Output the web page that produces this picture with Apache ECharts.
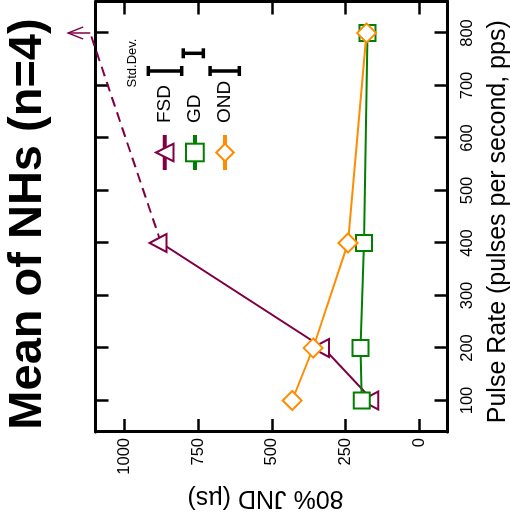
<!DOCTYPE html>
<html>
<head>
<meta charset="utf-8">
<title>Mean of NHs (n=4)</title>
<script src="https://cdn.jsdelivr.net/npm/echarts@6/dist/echarts.min.js"></script>
<style>
  html, body { margin: 0; padding: 0; background: #fff; overflow: hidden; }
  body { width: 511px; height: 522px; position: relative; }
  /* the figure is drawn upright, then turned a quarter turn to the left like the original */
  #chart {
    position: absolute;
    left: 0;
    top: 0;
    width: 522px;
    height: 511px;
    transform-origin: 0 0;
    transform: translate(0, 522px) rotate(-90deg);
  }
</style>
</head>
<body>
<div id="chart"></div>
<script>
const pulseRates = [100, 200, 400, 800]
const pulseTicks = [100, 200, 300, 400, 500, 600, 700, 800]
const jndTicks = [0, 250, 500, 750, 1000]

// 80% JND (µs) per pulse rate
const fsdJnd = [158, 325, 875]      // 800 pps is off the scale
const fsdOffScale = [1115, 1190]    // end of dashed line, tip of arrow
const gdJnd = [195, 200, 188, 176]
const ondJnd = [431, 360, 242, 179]

const stdDevNames = ['FSD', 'GD', 'OND']
const stdDevs = [113, 68, 99]

const FONT = '"Liberation Sans", Arial, sans-serif'
const COL_FSD = '#800046'
const COL_GD = '#008000'
const COL_OND = '#ff8c00'

const chart = echarts.init(document.getElementById('chart'))

const axisLine = { onZero: false, lineStyle: { color: '#000', width: 3 } }
const tickStyle = { color: '#000', width: 2.5 }
const plainNumber = (v) => String(v)

const markerStyle = (color) => ({ color: '#fff', borderColor: color, borderWidth: 2 })

const option = {
  animation: false,
  backgroundColor: '#fff',
  grid: { left: 90, right: 1.5, top: 95.5, bottom: 63.5, outerBoundsMode: 'none', containLabel: false },
  legend: {
    data: ['FSD', 'GD', 'OND'],
    orient: 'vertical',
    left: 350,
    top: 155,
    padding: 0,
    itemWidth: 35,
    itemHeight: 22,
    itemGap: 10.5,
    selectedMode: false,
    lineStyle: { width: 4 },
    textStyle: { fontSize: 19, color: '#000', fontFamily: FONT, padding: [0, 0, 0, 7] }
  },
  xAxis: [
    {
      type: 'value',
      min: 40,
      max: 860,
      position: 'bottom',
      name: 'Pulse Rate (pulses per second, pps)',
      nameLocation: 'middle',
      nameGap: 38,
      nameTextStyle: { fontSize: 25, color: '#000', fontFamily: FONT, padding: [0, 10, 0, 0] },
      axisLine: axisLine,
      axisTick: { inside: true, length: 13, lineStyle: tickStyle, customValues: pulseTicks },
      axisLabel: { customValues: pulseTicks, formatter: plainNumber, fontSize: 16.5, color: '#000', fontFamily: FONT, margin: 11 },
      splitLine: { show: false }
    },
    {
      type: 'value',
      min: 40,
      max: 860,
      position: 'top',
      axisLine: axisLine,
      axisTick: { inside: true, length: 13, lineStyle: tickStyle, customValues: pulseTicks },
      axisLabel: { show: false },
      splitLine: { show: false }
    }
  ],
  yAxis: [
    {
      type: 'value',
      min: -95,
      max: 1097,
      position: 'left',
      name: '80% JND (µs)',
      nameLocation: 'middle',
      nameGap: 52,
      nameTextStyle: { fontSize: 25, color: '#000', fontFamily: FONT, padding: [0, 0, 0, 12] },
      axisLine: axisLine,
      axisTick: { inside: true, length: 13, lineStyle: tickStyle, customValues: jndTicks },
      axisLabel: { customValues: jndTicks, formatter: plainNumber, fontSize: 16.5, color: '#000', fontFamily: FONT, margin: 6 },
      splitLine: { show: false }
    },
    {
      type: 'value',
      min: -95,
      max: 1097,
      position: 'right',
      axisLine: axisLine,
      axisTick: { inside: true, length: 13, lineStyle: tickStyle, customValues: jndTicks },
      axisLabel: { show: false },
      splitLine: { show: false }
    }
  ],
  series: [
    {
      name: 'FSD',
      type: 'line',
      data: fsdJnd.map((v, i) => [pulseRates[i], v]),
      symbol: 'triangle',
      symbolSize: [18, 17],
      symbolOffset: [0, -3],
      lineStyle: { color: COL_FSD, width: 2 },
      itemStyle: markerStyle(COL_FSD)
    },
    {
      name: 'FSD off scale',
      type: 'line',
      clip: false,
      data: [[pulseRates[2], fsdJnd[2]], [pulseRates[3], fsdOffScale[0]]],
      symbol: 'none',
      lineStyle: { color: COL_FSD, width: 2, type: [10, 6] }
    },
    {
      name: 'FSD arrow',
      type: 'line',
      clip: false,
      symbol: 'path://M0,10 L6,0 L12,10',
      symbolSize: [12, 15],
      symbolOffset: [0, 7.5],
      symbolKeepAspect: false,
      data: [
        { value: [pulseRates[3], fsdOffScale[0]], symbol: 'none' },
        { value: [pulseRates[3], fsdOffScale[1]] }
      ],
      lineStyle: { color: COL_FSD, width: 1.5 },
      itemStyle: { color: 'none', borderColor: COL_FSD, borderWidth: 1.5 }
    },
    {
      name: 'GD',
      type: 'line',
      data: gdJnd.map((v, i) => [pulseRates[i], v]),
      symbol: 'rect',
      symbolSize: 16,
      lineStyle: { color: COL_GD, width: 2 },
      itemStyle: markerStyle(COL_GD)
    },
    {
      name: 'OND',
      type: 'line',
      data: ondJnd.map((v, i) => [pulseRates[i], v]),
      symbol: 'diamond',
      symbolSize: 19,
      lineStyle: { color: COL_OND, width: 2 },
      itemStyle: markerStyle(COL_OND)
    }
  ]
}

chart.setOption(option)

// Std.Dev. bars beside the legend, scaled with the JND axis
const zeroPx = chart.convertToPixel({ yAxisIndex: 0 }, 0)
const barPlaces = [[451, 165], [468.7, 193.3], [451, 224.7]]
const bars = stdDevs.map((sd, i) => {
  const len = Math.abs(zeroPx - chart.convertToPixel({ yAxisIndex: 0 }, sd))
  const [x, y] = barPlaces[i]
  const lineStyle = { stroke: '#000', lineWidth: 3.5 }
  return {
    type: 'group',
    name: stdDevNames[i],
    children: [
      { type: 'line', shape: { x1: x, y1: y - len / 2, x2: x, y2: y + len / 2 }, style: lineStyle },
      { type: 'line', shape: { x1: x - 5, y1: y - len / 2, x2: x + 5, y2: y - len / 2 }, style: lineStyle },
      { type: 'line', shape: { x1: x - 5, y1: y + len / 2, x2: x + 5, y2: y + len / 2 }, style: lineStyle }
    ]
  }
})

chart.setOption({
  graphic: [
    {
      type: 'text',
      style: {
        text: 'Mean of NHs (n=4)',
        x: 298,
        y: 28,
        font: 'bold 47px ' + FONT,
        fill: '#000',
        align: 'center',
        verticalAlign: 'middle',
        textAlign: 'center',
        textVerticalAlign: 'middle'
      }
    },
    {
      type: 'text',
      style: {
        text: 'Std.Dev.',
        x: 459,
        y: 132,
        font: '13px ' + FONT,
        fill: '#000',
        align: 'center',
        verticalAlign: 'middle',
        textAlign: 'center',
        textVerticalAlign: 'middle'
      }
    }
  ].concat(bars)
})
</script>
</body>
</html>
